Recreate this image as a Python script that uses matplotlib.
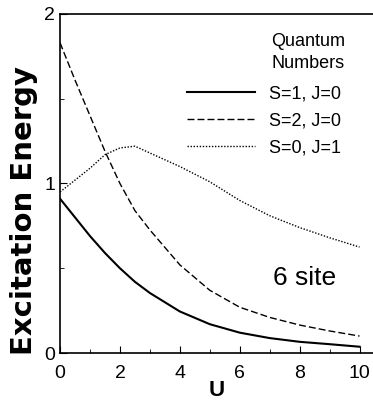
"""
Excitation energy vs U for a 6 site ring
"""
import numpy as np
import matplotlib.pyplot as plt
from matplotlib.ticker import MultipleLocator

plt.rcParams["font.family"] = ["Liberation Sans", "DejaVu Sans"]

# values
u = [0, 0.5, 1, 1.5, 2, 2.5, 3, 4, 5, 6, 7, 8, 9, 10]
s1_j0 = [0.91, 0.80, 0.69, 0.59, 0.50, 0.42, 0.354, 0.245, 0.17, 0.12, 0.088, 0.066, 0.052, 0.037]
s2_j0 = [1.83, 1.61, 1.40, 1.19, 1.00, 0.84, 0.726, 0.52, 0.37, 0.27, 0.21, 0.165, 0.13, 0.10]
s0_j1 = [0.95, 1.02, 1.09, 1.17, 1.21, 1.22, 1.18, 1.10, 1.01, 0.90, 0.81, 0.74, 0.68, 0.625]
labels = ["S=1, J=0", "S=2, J=0", "S=0, J=1"]

fig = plt.figure(figsize=(3.73, 4.0), dpi=100)
ax = fig.add_axes([0.161, 0.1175, 0.839, 0.8475])

ax.plot(u, s1_j0, "k-", lw=1.5, label=labels[0])
ax.plot(u, s2_j0, "k", lw=1.0, ls=(0, (5, 2.2)), label=labels[1])
ax.plot(u, s0_j1, "k", lw=1.0, ls=(0, (1, 1.2)), label=labels[2])

ax.set_xlim(0, 10.45)
ax.set_ylim(0, 2)
ax.spines["right"].set_visible(False)
for s in ax.spines.values():
    s.set_linewidth(1.2)

ax.xaxis.set_major_locator(MultipleLocator(2))
ax.xaxis.set_minor_locator(MultipleLocator(1))
ax.yaxis.set_major_locator(MultipleLocator(1))
ax.yaxis.set_minor_locator(MultipleLocator(0.5))
ax.tick_params(which="both", direction="in", labelsize=14, right=False, top=False)
ax.tick_params(which="major", length=5)
ax.tick_params(which="minor", length=3)
ax.tick_params(axis="x", pad=9)

ax.set_xlabel("U", fontsize=16, fontweight="bold", va="center")
ax.xaxis.set_label_coords(0.5, -0.11)
ax.set_ylabel("Excitation Energy", fontsize=21, fontweight="bold",
              family="DejaVu Sans", va="center")
ax.yaxis.set_label_coords(-0.115, 0.42)

ax.text(0.675, 0.886, "Quantum\nNumbers", transform=ax.transAxes, fontsize=13,
        ha="left", va="center", linespacing=1.35)
ax.legend(loc="center left", bbox_to_anchor=(0.405, 0.684), frameon=False,
          fontsize=13, handlelength=3.8, handletextpad=0.75, labelspacing=0.55,
          borderaxespad=0, borderpad=0)

ax.text(0.78, 0.221, "6 site", transform=ax.transAxes, fontsize=19,
        ha="center", va="center")

fig.savefig("out.png", dpi=100)
